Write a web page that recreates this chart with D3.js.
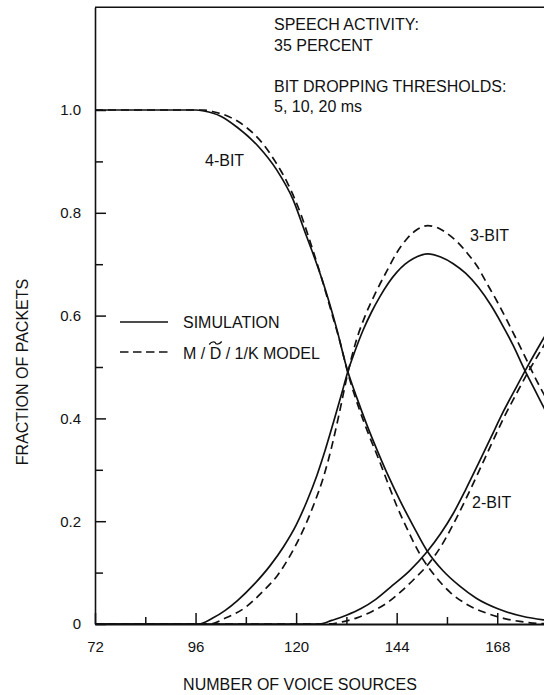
<!DOCTYPE html>
<html><head>
<meta charset="utf-8">
<title>Fraction of packets vs number of voice sources</title>
<script src="https://d3js.org/d3.v7.min.js"></script>
<style>
  body { margin: 0; background: #fff; }
  svg text { font-family: "Liberation Sans", Arial, sans-serif; fill: #111; }
</style>
</head>
<body>
<div id="chart"></div>
<script>

// ---- data: [voice sources, fraction of packets] ----
var bit4Sim = [[72,1],[96,1],[98,0.998],[102,0.988],[106,0.966],[111,0.929],[115.4,0.883],[119.3,0.825],
  [122,0.765],[124.5,0.71],[127,0.65],[129.5,0.58],[132.3,0.492],[134.5,0.44],[137,0.385],[139.5,0.335],
  [142,0.288],[144.8,0.24],[148,0.19],[151.2,0.143],[155,0.104],[159,0.074],[163,0.05],[168,0.03],
  [174,0.015],[179,0.008],[184,0.004]];
var bit4Model = [[72,1],[98,1],[100,0.997],[104,0.987],[108,0.967],[112,0.935],[115,0.9],[118,0.857],
  [121,0.8],[123.5,0.74],[126,0.675],[128.5,0.605],[130.5,0.548],[132.3,0.49],[135.2,0.415],[137.5,0.365],
  [139.5,0.325],[142,0.272],[144,0.23],[146.5,0.185],[149.6,0.135],[153,0.095],[156.7,0.062],[161,0.037],
  [165.5,0.021],[169.5,0.011],[173.4,0.005],[178,0.001],[184,0]];
var bit3Sim = [[72,0],[96.7,0],[100,0.011],[103,0.026],[106,0.0455],[110,0.0775],[113.8,0.1136],[117,0.1504],
  [120,0.1924],[122.5,0.2374],[125,0.29],[127,0.34],[129,0.395],[131,0.452],[132.3,0.49],[134,0.53],[136,0.572],
  [138,0.607],[140,0.637],[142,0.663],[144,0.684],[146,0.7],[148,0.711],[151.4,0.72],[154.5,0.714],
  [157.5,0.701],[160.5,0.682],[163.5,0.655],[166.5,0.62],[169,0.585],[171.8,0.542],[174.5,0.495],
  [177,0.455],[179,0.423],[184,0.35]];
var bit3Model = [[72,0],[99.4,0],[103,0.011],[108,0.033],[112,0.063],[115.5,0.094],[118.7,0.135],[121.7,0.183],
  [124.2,0.232],[126.5,0.285],[128.5,0.345],[130.3,0.41],[132.3,0.487],[134.3,0.55],[136.5,0.6],[139,0.645],
  [141.6,0.686],[144,0.722],[146.5,0.75],[148.8,0.767],[151.4,0.775],[153.8,0.771],[156,0.76],[158.5,0.743],
  [161,0.72],[163.3,0.695],[165.5,0.663],[168,0.627],[170.3,0.591],[172.7,0.552],[175,0.514],[177,0.48],
  [179,0.449],[184,0.37]];
var bit2Sim = [[72,0],[125.7,0],[128.5,0.007],[132,0.017],[135.5,0.03],[139,0.048],[143,0.075],[147,0.103],
  [151.2,0.14],[154.5,0.176],[157.5,0.215],[160.5,0.262],[163.5,0.312],[166.5,0.363],[169.5,0.414],
  [172.5,0.46],[175.5,0.505],[179,0.555],[184,0.625]];
var bit2Model = [[72,0],[127.5,0],[131,0.004],[134.5,0.012],[138,0.024],[141.5,0.04],[145,0.063],[148.5,0.09],
  [151.2,0.113],[154.5,0.15],[157.5,0.194],[160.5,0.243],[163.5,0.295],[166.5,0.348],[169.5,0.4],
  [172.5,0.447],[175.5,0.492],[179,0.54],[184,0.61]];

var xMajor = [72, 96, 120, 144, 168];
var xMinor = [84, 108, 132, 156, 180];
var yMajor = [0, 0.2, 0.4, 0.6, 0.8, 1.0];
var yMinor = [0.1, 0.3, 0.5, 0.7, 0.9];
var noteLines = ["SPEECH ACTIVITY:", "35 PERCENT", "", "BIT DROPPING THRESHOLDS:", "5, 10, 20 ms"];

// ---- layout ----
var W = 544, H = 695;
var left = 95, bottom = 624;

var svg = d3.select("#chart").append("svg")
    .attr("width", W)
    .attr("height", H);

var x = d3.scaleLinear().domain([72, 192]).range([left, left + 120 * 4.19]);
var y = d3.scaleLinear().domain([0, 1.2]).range([bottom, bottom - 1.2 * 514]);

// top border
svg.append("line")
    .attr("x1", left).attr("x2", W)
    .attr("y1", y(1.2)).attr("y2", y(1.2))
    .attr("stroke", "#111").attr("stroke-width", 1.6);

// y axis (ticks point inward)
var yAxis = d3.axisLeft(y).tickValues(yMajor).tickSize(-11).tickSizeOuter(0).tickPadding(14)
    .tickFormat(function(d) { return d === 0 ? "0" : d3.format(".1f")(d); });
var gy = svg.append("g").attr("transform", "translate(" + left + ",0)").call(yAxis);
svg.append("g").attr("transform", "translate(" + left + ",0)")
    .call(d3.axisLeft(y).tickValues(yMinor).tickSize(-8).tickSizeOuter(0).tickFormat(""))
    .select(".domain").remove();

// x axis
var xAxis = d3.axisBottom(x).tickValues(xMajor).tickSize(-11).tickSizeOuter(0).tickPadding(17)
    .tickFormat(d3.format("d"));
svg.append("g").attr("transform", "translate(0," + bottom + ")").call(xAxis);
svg.append("g").attr("transform", "translate(0," + bottom + ")")
    .call(d3.axisBottom(x).tickValues(xMinor).tickSize(-7).tickSizeOuter(0).tickFormat(""))
    .select(".domain").remove();

svg.selectAll(".tick line").attr("stroke", "#111").attr("stroke-width", 1.5);
svg.selectAll(".domain").attr("stroke", "#111").attr("stroke-width", 2);
gy.select(".domain").attr("stroke-width", 1.6);
svg.selectAll(".tick text").style("font-size", "15px").attr("fill", "#111");

// axis titles
svg.append("text")
    .attr("x", 300).attr("y", 690)
    .attr("text-anchor", "middle")
    .style("font-size", "16px")
    .text("NUMBER OF VOICE SOURCES");

svg.append("text")
    .attr("transform", "translate(28,372) rotate(-90)")
    .attr("text-anchor", "middle")
    .style("font-size", "16px")
    .text("FRACTION OF PACKETS");

// curves
var line = d3.line()
    .x(function(d) { return x(d[0]); })
    .y(function(d) { return y(d[1]); })
    .curve(d3.curveMonotoneX);

var series = [
  { data: bit4Sim, dash: null },
  { data: bit4Model, dash: "8,5" },
  { data: bit3Sim, dash: null },
  { data: bit3Model, dash: "8,5" },
  { data: bit2Sim, dash: null },
  { data: bit2Model, dash: "8,5" }
];

svg.selectAll("path.curve")
    .data(series)
  .enter().append("path")
    .attr("class", "curve")
    .attr("fill", "none")
    .attr("stroke", "#111")
    .attr("stroke-width", 1.7)
    .attr("stroke-dasharray", function(d) { return d.dash; })
    .attr("d", function(d) { return line(d.data); });

// curve labels
svg.append("text").attr("x", x(98.25)).attr("y", y(0.891)).style("font-size", "16px").text("4-BIT");
svg.append("text").attr("x", x(161.5)).attr("y", y(0.745)).style("font-size", "16px").text("3-BIT");
svg.append("text").attr("x", x(162)).attr("y", y(0.226)).style("font-size", "16px").text("2-BIT");

// notes at the top
var noteBase = [30, 51, 72, 92, 112];
noteLines.forEach(function(t, i) {
  if (!t) return;
  svg.append("text").attr("x", 274).attr("y", noteBase[i]).style("font-size", "16px").text(t);
});

// legend
svg.append("line").attr("x1", 120).attr("x2", 168).attr("y1", 322).attr("y2", 322)
    .attr("stroke", "#111").attr("stroke-width", 1.7);
svg.append("line").attr("x1", 120).attr("x2", 168).attr("y1", 352).attr("y2", 352)
    .attr("stroke", "#111").attr("stroke-width", 1.7).attr("stroke-dasharray", "8.5,4.5");
svg.append("text").attr("x", 183).attr("y", 328).style("font-size", "16px").text("SIMULATION");

var modelText = svg.append("text").attr("x", 183).attr("y", 359).style("font-size", "16px");
modelText.append("tspan").text("M / ");
modelText.append("tspan").text("D");
modelText.append("tspan").text(" / 1/K MODEL");
var dStart = modelText.node().getSubStringLength(0, 4);
var dWidth = modelText.node().getSubStringLength(4, 1);

// tilde over the D, drawn as a small wave
var tx0 = 183 + dStart - 0.5, tx1 = tx0 + dWidth + 1, ty = 343;
var tw = (tx1 - tx0) / 4;
svg.append("path")
    .attr("fill", "none")
    .attr("stroke", "#111")
    .attr("stroke-width", 1.3)
    .attr("d", "M" + tx0 + "," + (ty + 1.5) +
      " C" + (tx0 + tw) + "," + (ty - 2.5) + " " + (tx0 + tw * 2) + "," + (ty - 1) + " " + (tx0 + tw * 2) + "," + ty +
      " S" + (tx1 - tw) + "," + (ty + 2.5) + " " + tx1 + "," + (ty - 1.5));

</script>
</body></html>
